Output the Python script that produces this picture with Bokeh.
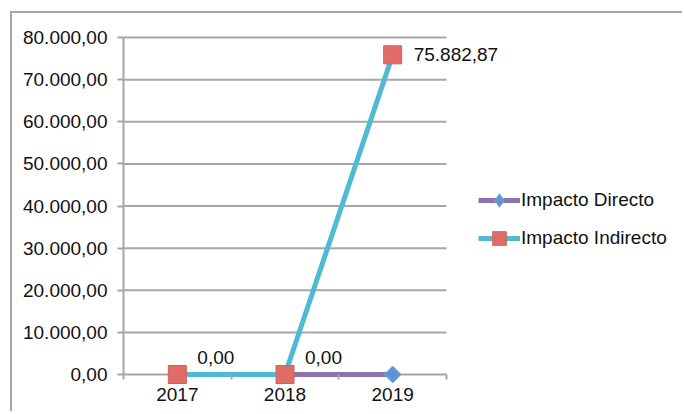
import math
from bokeh.plotting import figure
from bokeh.models import (ColumnDataSource, FixedTicker, Legend, LegendItem, LabelSet, Range1d)
from bokeh.core.properties import value
from bokeh.embed import file_html
from bokeh.resources import INLINE

# ---- data ----
years = ["2017", "2018", "2019"]
impacto_directo = [0.0, 0.0, 0.0]
impacto_indirecto = [0.0, 0.0, 75882.87]
y_ticks = [0, 10000, 20000, 30000, 40000, 50000, 60000, 70000, 80000]
y_tick_labels = ["0,00", "10.000,00", "20.000,00", "30.000,00", "40.000,00",
                 "50.000,00", "60.000,00", "70.000,00", "80.000,00"]


def fmt_es(v):
    s = f"{v:,.2f}"
    return s.replace(",", "X").replace(".", ",").replace("X", ".")


FONT = "Liberation Sans"
FS = "19px"
GRID = "#a6a6a6"
TXT = "#111111"

n = len(years)
xs = list(range(1, n + 1))

# layout (pixels)
W, H = 672, 400
FRAME_L, FRAME_T, FRAME_B = 111, 22, 372      # canvas pixels
PLOT_W = 323.0                                 # width covered by the categories
PLOT_H = 337.0                                 # height covered by 0..80000
y_top, y_bot = y_ticks[-1], y_ticks[0]
upp = (y_top - y_bot) / PLOT_H
ppx = PLOT_W / n
x_start = 0.5
x_end = x_start + (W - FRAME_L) / ppx
y_end = y_top + 2 * upp
y_start = y_bot - (FRAME_B - FRAME_T - 2 - PLOT_H) * upp

p = figure(width=W, height=H, output_backend="svg", toolbar_location=None,
           x_range=Range1d(x_start, x_end), y_range=Range1d(y_start, y_end),
           min_border_left=FRAME_L, min_border_right=0, min_border_top=FRAME_T,
           min_border_bottom=H - FRAME_B)
p.styles = {"margin-left": "10px", "margin-top": "11px",
            "border-top": f"2px solid {GRID}", "border-left": f"2px solid {GRID}"}
p.outline_line_color = None
p.background_fill_color = "white"
p.border_fill_color = "white"

# grid lines limited to the category area
grid_src = ColumnDataSource(dict(x0=[0.5] * len(y_ticks), x1=[n + 0.5] * len(y_ticks),
                                 y=y_ticks))
p.segment(x0="x0", x1="x1", y0="y", y1="y", source=grid_src,
          line_color=GRID, line_width=2)

# series
src_d = ColumnDataSource(dict(x=xs, y=impacto_directo))
src_i = ColumnDataSource(dict(x=xs, y=impacto_indirecto))

C_D_LINE, C_D_MARK, C_D_EDGE = "#8c72b3", "#5f95d8", "#7aa6dd"
C_I_LINE, C_I_MARK, C_I_EDGE = "#50b9d3", "#e06c68", "#d0605c"

l_d = p.line("x", "y", source=src_d, line_color=C_D_LINE, line_width=5)
l_i = p.line("x", "y", source=src_i, line_color=C_I_LINE, line_width=5)
# diamond used for the legend swatch (hidden under the rotated square in the plot)
m_d_leg = p.scatter("x", "y", source=src_d, marker="diamond", size=14,
                    fill_color=C_D_MARK, line_color=C_D_EDGE, line_width=1)
m_d = p.scatter("x", "y", source=src_d, marker="square", angle=math.pi / 4, size=12,
                fill_color=C_D_MARK, line_color=C_D_EDGE, line_width=1)
m_i = p.scatter("x", "y", source=src_i, marker="square", size=18,
                fill_color=C_I_MARK, line_color=C_I_EDGE, line_width=1)

# data labels
zero_idx = [k for k, v in enumerate(impacto_indirecto) if v == 0]
other_idx = [k for k, v in enumerate(impacto_indirecto) if v != 0]
src_l0 = ColumnDataSource(dict(x=[xs[k] for k in zero_idx],
                               y=[impacto_indirecto[k] for k in zero_idx],
                               lbl=[fmt_es(impacto_indirecto[k]) for k in zero_idx]))
src_l1 = ColumnDataSource(dict(x=[xs[k] for k in other_idx],
                               y=[impacto_indirecto[k] for k in other_idx],
                               lbl=[fmt_es(impacto_indirecto[k]) for k in other_idx]))
p.add_layout(LabelSet(x="x", y="y", text="lbl", source=src_l0, x_offset=20, y_offset=11,
                      text_font=value(FONT), text_font_size=FS, text_color=TXT,
                      text_baseline="alphabetic", text_align="left"))
p.add_layout(LabelSet(x="x", y="y", text="lbl", source=src_l1, x_offset=21, y_offset=0,
                      text_font=value(FONT), text_font_size=FS, text_color=TXT,
                      text_baseline="middle", text_align="left"))

# axes
p.xaxis.ticker = FixedTicker(ticks=xs, minor_ticks=[k + 0.5 for k in range(n + 1)])
p.xaxis.major_label_overrides = {x: y for x, y in zip(xs, years)}
p.xaxis.axis_line_color = None
p.xaxis.major_tick_line_color = None
p.xaxis.major_tick_in = 0
p.xaxis.major_tick_out = 0
p.xaxis.minor_tick_line_color = GRID
p.xaxis.minor_tick_line_width = 2
p.xaxis.minor_tick_in = 11
p.xaxis.minor_tick_out = -6
p.xaxis.major_label_standoff = 2
p.xaxis.major_label_text_font = FONT
p.xaxis.major_label_text_font_size = FS
p.xaxis.major_label_text_color = TXT

p.yaxis.ticker = FixedTicker(ticks=y_ticks, minor_ticks=[])
p.yaxis.major_label_overrides = {t: s for t, s in zip(y_ticks, y_tick_labels)}
p.yaxis.bounds = (y_bot, y_top)
p.yaxis.axis_line_color = GRID
p.yaxis.axis_line_width = 2
p.yaxis.major_tick_line_color = GRID
p.yaxis.major_tick_line_width = 2
p.yaxis.major_tick_in = 0
p.yaxis.major_tick_out = 6
p.yaxis.minor_tick_line_color = None
p.yaxis.major_label_standoff = 10
p.yaxis.major_label_text_font = FONT
p.yaxis.major_label_text_font_size = FS
p.yaxis.major_label_text_color = TXT

p.xgrid.grid_line_color = None
p.ygrid.grid_line_color = None

legend = Legend(items=[LegendItem(label="Impacto Directo", renderers=[l_d, m_d_leg]),
                       LegendItem(label="Impacto Indirecto", renderers=[l_i, m_i])],
                location=(355, 130), orientation="vertical",
                glyph_width=42, glyph_height=34, label_height=34, spacing=4,
                label_standoff=1, padding=0, margin=0,
                label_text_font=FONT, label_text_font_size=FS,
                label_text_color=TXT, label_text_baseline="middle",
                border_line_color=None, background_fill_alpha=0)
p.add_layout(legend, "center")

open("out.html", "w").write(file_html(p, INLINE))
